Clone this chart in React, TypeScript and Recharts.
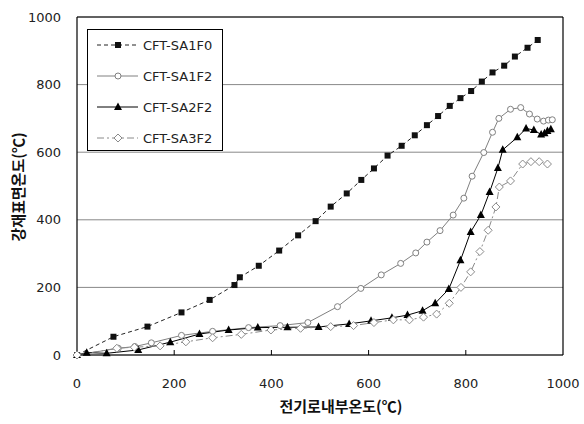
import React from 'react';
import { LineChart, Line, XAxis, YAxis, CartesianGrid, ReferenceLine, Legend } from 'recharts';

type P = { t: number; v: number };
const mk = (a: number[][]): P[] => a.map(([t, v]) => ({ t, v }));

const SA1F0 = mk([[0,0],[75,54],[145,84],[215,126],[273,163],[324,207],[335,230],[374,264],[416,309],[455,354],[491,396],[522,439],[555,478],[585,518],[611,552],[639,590],[668,619],[695,650],[720,680],[743,707],[767,737],[789,760],[811,781],[833,809],[855,836],[879,856],[901,883],[927,909],[948,932]]);
const SA1F2 = mk([[0,0],[85,20],[119,25],[153,36],[215,58],[279,70],[353,81],[418,87],[475,96],[536,143],[584,197],[626,237],[666,271],[697,302],[720,334],[747,368],[774,414],[796,464],[813,529],[837,599],[855,659],[868,700],[892,727],[913,732],[931,713],[947,698],[960,692],[970,695],[978,696]]);
const SA2F2 = mk([[0,0],[20,7],[61,5],[126,15],[192,38],[252,62],[312,74],[372,81],[433,82],[497,83],[560,92],[605,101],[648,110],[680,118],[711,131],[737,153],[765,195],[789,280],[810,364],[831,414],[849,482],[866,553],[876,607],[906,644],[924,670],[940,666],[955,652],[962,656],[968,663],[975,668]]);
const SA3F2 = mk([[0,0],[82,20],[118,23],[171,27],[224,39],[279,51],[338,61],[399,74],[460,79],[522,84],[569,87],[611,96],[651,104],[684,104],[713,112],[740,121],[766,153],[790,200],[810,246],[829,306],[846,369],[862,438],[869,497],[892,515],[917,565],[934,572],[951,572],[968,565]]);

const X_TICKS = [0, 200, 400, 600, 800, 1000];
const Y_TICKS = [0, 200, 400, 600, 800, 1000];
const X_TITLE = '전기로내부온도(℃)';
const Y_TITLE = '강재표면온도(℃)';

const FONT = '"DejaVu Sans", sans-serif';
const KFONT = '"Noto Sans CJK KR", sans-serif';

type Shape = 'square' | 'circle' | 'triangle' | 'diamond';

const Marker = ({ shape, cx, cy }: { shape: Shape; cx: number; cy: number }) => {
  if (shape === 'square') return <rect x={cx - 3} y={cy - 3} width={6} height={6} fill="#111" />;
  if (shape === 'circle') return <circle cx={cx} cy={cy} r={3} fill="#fff" stroke="#808080" strokeWidth={1} />;
  if (shape === 'triangle') return <path d={`M${cx},${cy - 4.5} L${cx + 4},${cy + 3} L${cx - 4},${cy + 3} Z`} fill="#000" />;
  return <path d={`M${cx},${cy - 4} L${cx + 4},${cy} L${cx},${cy + 4} L${cx - 4},${cy} Z`} fill="#fff" stroke="#8a8a8a" strokeWidth={1} />;
};

const SERIES = [
  { name: 'CFT-SA1F0', data: SA1F0, stroke: '#222', dash: '4 3', shape: 'square' as Shape },
  { name: 'CFT-SA1F2', data: SA1F2, stroke: '#808080', dash: undefined, shape: 'circle' as Shape },
  { name: 'CFT-SA2F2', data: SA2F2, stroke: '#000', dash: undefined, shape: 'triangle' as Shape },
  { name: 'CFT-SA3F2', data: SA3F2, stroke: '#8a8a8a', dash: '7 3 2 3', shape: 'diamond' as Shape },
];

const XTick = (props: any) => {
  const { x, y, payload } = props;
  return (
    <g>
      {payload.value > 0 && payload.value < 1000 && (
        <line x1={x} x2={x} y1={y} y2={y - 5} stroke="#000" strokeWidth={1} />
      )}
      <text x={x} y={y + 33} textAnchor="middle" fontFamily={FONT} fontSize={13} fill="#222">
        {payload.value}
      </text>
    </g>
  );
};

const LegendBox = () => (
  <div style={{ border: '1px solid #000', background: '#fff', width: 134, height: 120, boxSizing: 'content-box', position: 'relative' }}>
    {SERIES.map((s, i) => (
      <div key={s.name} style={{ position: 'absolute', left: 8, top: 7 + i * 31, height: 16, display: 'flex', alignItems: 'center' }}>
        <svg width={44} height={16}>
          <line x1={1} x2={42} y1={8} y2={8} stroke={s.stroke} strokeWidth={1} strokeDasharray={s.dash} />
          <Marker shape={s.shape} cx={22} cy={8} />
        </svg>
        <span style={{ fontFamily: FONT, fontSize: 13, color: '#222', marginLeft: 3, whiteSpace: 'nowrap' }}>{s.name}</span>
      </div>
    ))}
  </div>
);

export default function App() {
  return (
    <div style={{ position: 'absolute', left: 0, top: 0, width: 584, height: 424, background: '#fff' }}>
      <LineChart width={584} height={424} margin={{ top: 17, right: 21, bottom: 0, left: 0 }}>
        <CartesianGrid vertical={false} stroke="#888" strokeWidth={1} />
        <XAxis
          type="number"
          dataKey="t"
          domain={[0, 1000]}
          ticks={X_TICKS}
          height={69}
          tickSize={0}
          tickMargin={0}
          tickLine={false}
          axisLine={{ stroke: '#000', strokeWidth: 1.2 }}
          tick={<XTick />}
          interval={0}
          label={{
            content: (p: any) => {
              const vb = p.viewBox;
              return (
                <text x={vb.x + vb.width / 2 + 21} y={vb.y + 57} textAnchor="middle" fontFamily={KFONT} fontWeight="bold" fontSize={15} fill="#111">
                  {X_TITLE}
                </text>
              );
            },
          }}
        />
        <YAxis
          type="number"
          dataKey="v"
          domain={[0, 1000]}
          ticks={Y_TICKS}
          width={77}
          tickSize={0}
          tickMargin={16}
          tickLine={false}
          interval={0}
          axisLine={{ stroke: '#000', strokeWidth: 1.2 }}
          tick={{ fontFamily: FONT, fontSize: 13, fill: '#222' }}
          label={{
            content: (p: any) => {
              const vb = p.viewBox;
              const cy = vb.y + vb.height / 2 + 1;
              return (
                <text x={17} y={cy} transform={`rotate(-90 17 ${cy})`} textAnchor="middle" dominantBaseline="central" fontFamily={KFONT} fontWeight="bold" fontSize={15} fill="#111">
                  {Y_TITLE}
                </text>
              );
            },
          }}
        />
        <ReferenceLine y={1000} stroke="#000" strokeWidth={1.2} />
        <ReferenceLine x={1000} stroke="#000" strokeWidth={1.2} />
        {SERIES.map((s) => (
          <Line
            key={s.name}
            name={s.name}
            data={s.data}
            dataKey="v"
            type="linear"
            stroke={s.stroke}
            strokeWidth={1}
            strokeDasharray={s.dash}
            isAnimationActive={false}
            dot={(p: any) => <Marker key={`${s.name}-${p.index}`} shape={s.shape} cx={p.cx} cy={p.cy} />}
            activeDot={false}
          />
        ))}
        <Legend
          layout="horizontal"
          verticalAlign="middle"
          align="center"
          wrapperStyle={{ left: 87, top: 29, width: 136, height: 122 }}
          content={() => <LegendBox />}
        />
      </LineChart>
    </div>
  );
}
